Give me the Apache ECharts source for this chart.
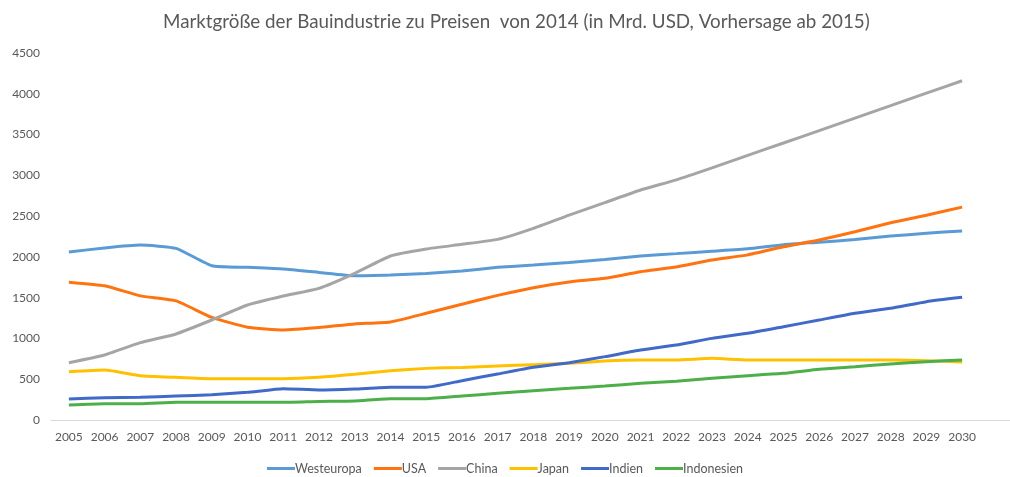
<!DOCTYPE html>
<html>
<head>
<meta charset="utf-8">
<script src="https://cdn.jsdelivr.net/npm/echarts@6/dist/echarts.min.js"></script>
<style>
  html, body { margin: 0; padding: 0; background: #fff; }
  #chart { width: 1010px; height: 477px; }
</style>
</head>
<body>
<div id="chart"></div>
<script>
// Jahre (Kategorien)
var years = ['2005', '2006', '2007', '2008', '2009', '2010', '2011', '2012', '2013',
  '2014', '2015', '2016', '2017', '2018', '2019', '2020', '2021', '2022', '2023',
  '2024', '2025', '2026', '2027', '2028', '2029', '2030']

// Werte in Mrd. USD
var westeuropa = [2060, 2110, 2145, 2105, 1892, 1872, 1851, 1810, 1768, 1778, 1795, 1827,
  1872, 1900, 1930, 1968, 2012, 2040, 2070, 2100, 2150, 2180, 2212, 2255, 2290, 2318]
var usa = [1690, 1645, 1522, 1460, 1258, 1138, 1105, 1134, 1178, 1202, 1308, 1420,
  1528, 1622, 1692, 1738, 1818, 1875, 1962, 2025, 2125, 2207, 2308, 2418, 2510, 2610]
var china = [703, 797, 948, 1055, 1226, 1410, 1520, 1614, 1798, 2011, 2097, 2154,
  2215, 2350, 2513, 2665, 2820, 2945, 3092, 3245, 3396, 3549, 3702, 3854, 4007, 4160]
var japan = [592, 613, 543, 523, 507, 507, 507, 523, 560, 605, 633, 645,
  662, 678, 695, 723, 736, 736, 756, 736, 736, 736, 736, 736, 728, 710]
var indien = [257, 274, 278, 294, 310, 339, 384, 368, 380, 401, 401, 482,
  564, 646, 703, 777, 858, 920, 1001, 1063, 1144, 1226, 1308, 1369, 1451, 1504]
var indonesien = [184, 200, 200, 217, 217, 217, 217, 228, 233, 262, 262, 294,
  327, 360, 388, 417, 450, 475, 511, 543, 572, 621, 654, 687, 715, 736]

var yTicks = [0, 500, 1000, 1500, 2000, 2500, 3000, 3500, 4000, 4500]

var names = ['Westeuropa', 'USA', 'China', 'Japan', 'Indien', 'Indonesien']
var colors = ['#5B9BD5', '#FF7311', '#A5A5A5', '#FFC000', '#4169C8', '#4DAF4A']
var data = [westeuropa, usa, china, japan, indien, indonesien]

var font = 'Lato, "Open Sans", sans-serif'
var chart = echarts.init(document.getElementById('chart'))

chart.setOption({
  animation: false,
  color: colors,
  title: {
    text: 'Marktgröße der Bauindustrie zu Preisen  von 2014 (in Mrd. USD, Vorhersage ab 2015)',
    left: 158,
    top: 7,
    textStyle: { color: '#595959', fontSize: 18.8, fontWeight: 'normal', fontFamily: font }
  },
  legend: {
    top: 457,
    left: 'center',
    itemWidth: 28,
    itemHeight: 3,
    itemGap: 12,
    icon: 'rect',
    data: names,
    textStyle: { color: '#595959', fontSize: 12.5, fontFamily: font, padding: [0, 0, 0, -5] }
  },
  grid: { left: 51, right: 30, top: 53, bottom: 57 },
  xAxis: {
    type: 'category',
    data: years,
    boundaryGap: true,
    axisLine: { lineStyle: { color: '#D9D9D9', width: 1 } },
    axisTick: { show: false },
    axisLabel: { color: '#595959', fontSize: 12, fontFamily: font, interval: 0, margin: 11 }
  },
  yAxis: {
    type: 'value',
    min: yTicks[0],
    max: yTicks[yTicks.length - 1],
    interval: 500,
    axisLine: { show: false },
    axisTick: { show: false },
    splitLine: { show: false },
    axisLabel: {
      color: '#595959', fontSize: 12, fontFamily: font, margin: 11,
      formatter: function (v) { return String(v) }
    }
  },
  graphic: [{
    type: 'line',
    shape: { x1: 980, y1: 420.5, x2: 1010, y2: 420.5 },
    style: { stroke: '#D9D9D9', lineWidth: 1 }
  }],
  series: names.map(function (n, i) {
    return {
      name: n,
      type: 'line',
      data: data[i],
      symbol: 'none',
      smooth: 0.15,
      lineStyle: { width: 3, color: colors[i] }
    }
  })
})
</script>
</body>
</html>
